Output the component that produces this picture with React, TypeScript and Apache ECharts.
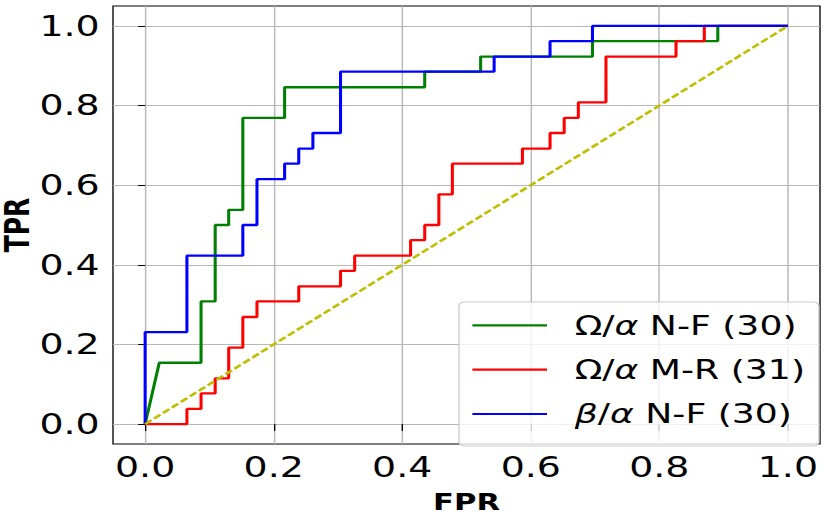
import React, { useEffect, useRef } from "react";
import * as echarts from "echarts";

const ticks = [0, 0.2, 0.4, 0.6, 0.8, 1.0];

const seriesNames = ["Ω/α N-F (30)", "Ω/α M-R (31)", "β/α N-F (30)"];
const legendRich = ["Ω/{i|α} N-F (30)", "Ω/{i|α} M-R (31)", "{i|β}/{i|α} N-F (30)"];
const seriesColors = ["#008000", "#ff0000", "#0000ff"];

const fprGreen = [0, 0.022, 0.087, 0.087, 0.109, 0.109, 0.13, 0.13, 0.152, 0.152, 0.217, 0.217, 0.435, 0.435, 0.522, 0.522, 0.696, 0.696, 0.891, 0.891, 1.0];
const tprGreen = [0, 0.154, 0.154, 0.308, 0.308, 0.5, 0.5, 0.538, 0.538, 0.769, 0.769, 0.846, 0.846, 0.885, 0.885, 0.923, 0.923, 0.962, 0.962, 1.0, 1.0];

const fprRed = [0, 0.065, 0.065, 0.087, 0.087, 0.109, 0.109, 0.13, 0.13, 0.152, 0.152, 0.174, 0.174, 0.239, 0.239, 0.304, 0.304, 0.326, 0.326, 0.413, 0.413, 0.435, 0.435, 0.457, 0.457, 0.478, 0.478, 0.587, 0.587, 0.63, 0.63, 0.652, 0.652, 0.674, 0.674, 0.717, 0.717, 0.826, 0.826, 0.87, 0.87, 1.0];
const tprRed = [0, 0, 0.038, 0.038, 0.077, 0.077, 0.115, 0.115, 0.192, 0.192, 0.269, 0.269, 0.308, 0.308, 0.346, 0.346, 0.385, 0.385, 0.423, 0.423, 0.462, 0.462, 0.5, 0.5, 0.577, 0.577, 0.654, 0.654, 0.692, 0.692, 0.731, 0.731, 0.769, 0.769, 0.808, 0.808, 0.923, 0.923, 0.962, 0.962, 1.0, 1.0];

const fprBlue = [0, 0, 0.065, 0.065, 0.152, 0.152, 0.174, 0.174, 0.217, 0.217, 0.239, 0.239, 0.261, 0.261, 0.304, 0.304, 0.543, 0.543, 0.63, 0.63, 0.696, 0.696, 1.0];
const tprBlue = [0, 0.231, 0.231, 0.423, 0.423, 0.5, 0.5, 0.615, 0.615, 0.654, 0.654, 0.692, 0.692, 0.731, 0.731, 0.885, 0.885, 0.923, 0.923, 0.962, 0.962, 1.0, 1.0];

const fprChance = [0, 1];
const tprChance = [0, 1];

const zip = (xs: number[], ys: number[]) => xs.map((x, i) => [x, ys[i]]);

const FONT = "DejaVu Sans";
// the reference picture is stretched horizontally; render narrower and stretch
const STRETCH = 1.33;
const PAGE_W = 830;
const PAGE_H = 514;
const sx = (v: number) => v / STRETCH;

export default function App() {
  const ref = useRef<HTMLDivElement>(null);
  useEffect(() => {
    if (!ref.current) return;
    const chart = echarts.init(ref.current, undefined, { renderer: "svg" });
    const curves = [
      zip(fprGreen, tprGreen),
      zip(fprRed, tprRed),
      zip(fprBlue, tprBlue),
    ];
    const labelCommon = {
      customValues: ticks,
      formatter: (v: number) => v.toFixed(1),
      fontSize: 28.5,
      color: "#000",
      fontFamily: FONT,
    };
    const axisBase = {
      type: "value" as const,
      min: -0.05,
      max: 1.05,
      axisLine: { show: false },
      nameMoveOverlap: false,
      splitLine: { show: true, lineStyle: { color: "#b8b8b8", width: 1.1 } },
    };
    chart.setOption({
      animation: false,
      textStyle: { fontFamily: FONT },
      grid: {
        left: sx(113),
        top: 6,
        width: sx(820) - sx(113),
        height: 438,
        show: true,
        borderColor: "#000",
        borderWidth: 1,
        backgroundColor: "transparent",
        containLabel: false,
        outerBoundsMode: "none",
      },
      xAxis: {
        ...axisBase,
        name: "FPR",
        nameLocation: "middle",
        nameGap: 46,
        nameTextStyle: { fontSize: 23, fontWeight: "bold", color: "#000", fontFamily: FONT },
        axisTick: {
          show: true,
          length: 7,
          customValues: ticks,
          lineStyle: { color: "#000", width: 1 },
        },
        axisLabel: { ...labelCommon, margin: 9 },
      },
      yAxis: {
        ...axisBase,
        name: "TPR",
        nameLocation: "middle",
        nameGap: 60.5,
        nameTextStyle: {
          fontSize: 25,
          fontWeight: "bold",
          color: "#000",
          fontFamily: FONT,
          lineHeight: 22,
        },
        axisTick: {
          show: true,
          length: sx(7),
          customValues: ticks,
          lineStyle: { color: "#000", width: 1 },
        },
        axisLabel: { ...labelCommon, margin: 10 },
      },
      legend: {
        data: seriesNames,
        orient: "vertical",
        left: sx(459),
        top: 302,
        icon: "rect",
        itemWidth: sx(74.6),
        itemHeight: 2.2,
        itemGap: 14.3,
        padding: [8.4, sx(14), 17, sx(13.4)],
        backgroundColor: "rgba(255,255,255,0.8)",
        borderColor: "#cccccc",
        borderWidth: 1,
        borderRadius: 4,
        formatter: (name: string) => legendRich[seriesNames.indexOf(name)],
        textStyle: {
          fontSize: 27.2,
          color: "#000",
          fontFamily: FONT,
          lineHeight: 30,
          padding: [0, 0, 0, sx(27.7) - 5],
          rich: {
            i: { fontStyle: "italic", fontSize: 27.2, fontFamily: FONT, color: "#000", lineHeight: 30 },
          },
        },
      },
      series: [
        ...curves.map((data, i) => ({
          name: seriesNames[i],
          type: "line",
          data,
          symbol: "none",
          showSymbol: false,
          lineStyle: { color: seriesColors[i], width: 2.3 },
          itemStyle: { color: seriesColors[i] },
          emphasis: { disabled: true },
        })),
        {
          name: "chance",
          type: "line",
          data: zip(fprChance, tprChance),
          symbol: "none",
          showSymbol: false,
          lineStyle: { color: "#bfbf00", width: 2.4, type: [6.2, 2.5] },
          itemStyle: { color: "#bfbf00" },
          emphasis: { disabled: true },
        },
      ],
    });
    return () => chart.dispose();
  }, []);
  return (
    <div
      style={{
        position: "fixed",
        left: 0,
        top: 0,
        width: PAGE_W,
        height: PAGE_H,
        overflow: "hidden",
        background: "#fff",
      }}
    >
      <div
        ref={ref}
        style={{
          width: PAGE_W / STRETCH,
          height: PAGE_H,
          transform: `scaleX(${STRETCH})`,
          transformOrigin: "0 0",
        }}
      />
    </div>
  );
}
